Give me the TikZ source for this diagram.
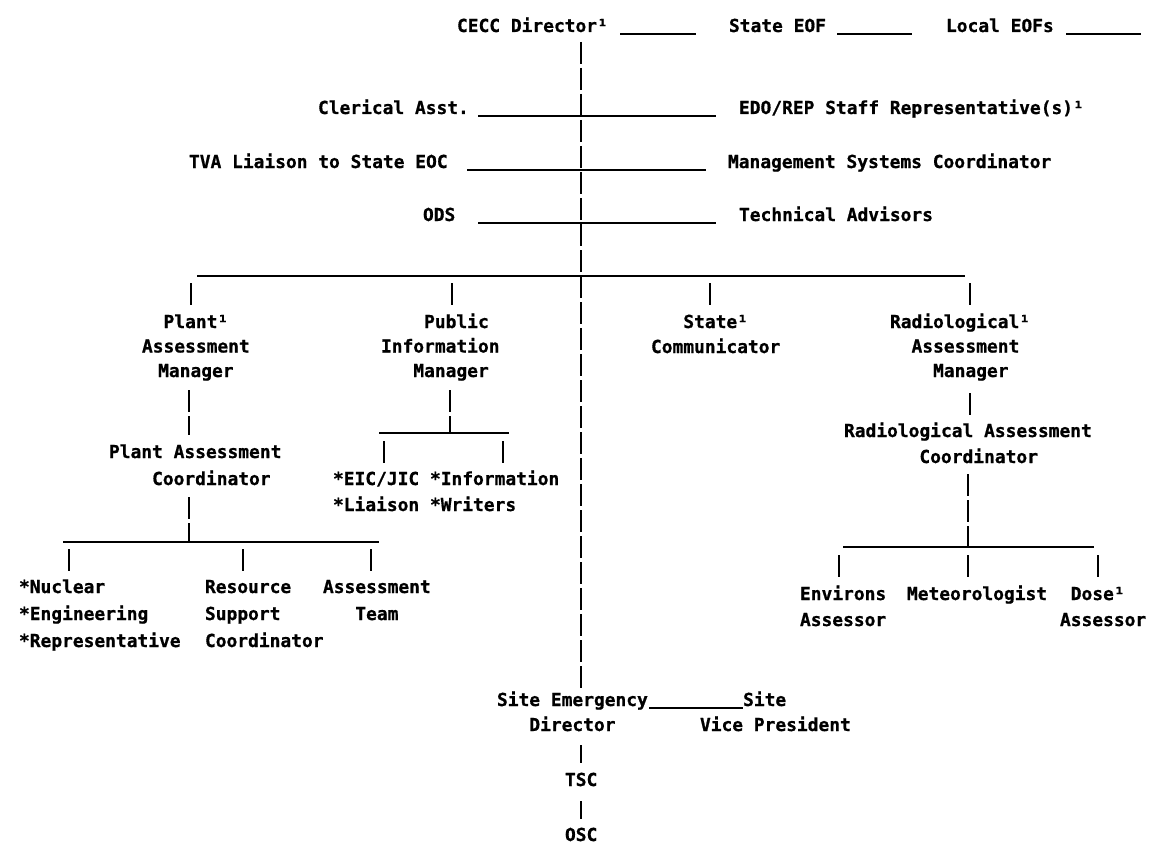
\documentclass[tikz,border=0pt]{standalone}
\usepackage{fontspec}
\setmainfont{DejaVu Sans Mono}[BoldFeatures={FakeBold=0.8}]
\newlength\cw
\setlength\cw{10.776pt}
\newcommand\lf[1]{\fontsize{17.9pt}{#1pt}\selectfont\bfseries}
\newcommand\st{\rule{0pt}{15pt}}
\newcommand\ind[1]{\hspace*{#1\cw}}
\begin{document}
\begin{tikzpicture}[x=1pt,y=-1pt,
  lab/.style={anchor=north west, inner sep=0pt, outer sep=0pt, align=left, font=\lf{#1}},
  lab/.default=26,
  hbar/.style={line width=2.7pt},
  vbar/.style={line width=2.7pt, dash pattern=on 22pt off 4pt}]
\useasboundingbox (0,0) rectangle (1151,848);
% ---- top row
\node[lab] (cecc) at (457,17) {\st CECC Director¹};
\node[lab] (seof) at (729,17) {\st State EOF};
\node[lab] (leof) at (946,17) {\st Local EOFs};
\coordinate (l1a) at (620,34); \coordinate (l1b) at (696,34);
\coordinate (l2a) at (837,34); \coordinate (l2b) at (912,34);
\coordinate (l3a) at (1066,34); \coordinate (l3b) at (1141,34);
\draw[hbar] (l1a) -- (l1b);
\draw[hbar] (l2a) -- (l2b);
\draw[hbar] (l3a) -- (l3b);
% ---- staff rows
\node[lab] (cler) at (318,99) {\st Clerical Asst.};
\node[lab] (edo) at (739,99) {\st EDO/REP Staff Representative(s)¹};
\node[lab] (tva) at (189,153) {\st TVA Liaison to State EOC};
\node[lab] (msc) at (728,153) {\st Management Systems Coordinator};
\node[lab] (ods) at (423,206) {\st ODS};
\node[lab] (tech) at (739,206) {\st Technical Advisors};
\coordinate (r1a) at (478,116); \coordinate (r1b) at (716,116);
\coordinate (r2a) at (467,170); \coordinate (r2b) at (706,170);
\coordinate (r3a) at (478,223); \coordinate (r3b) at (716,223);
\draw[hbar] (r1a) -- (r1b);
\draw[hbar] (r2a) -- (r2b);
\draw[hbar] (r3a) -- (r3b);
% ---- main line
\coordinate (mtop) at (581,42);
\coordinate (mbot) at (581,690);
\draw[vbar] (mtop) -- (mbot);
% ---- main bar
\coordinate (ba) at (197,276); \coordinate (bb) at (965,276);
\draw[hbar] (ba) -- (bb);
\coordinate (t1a) at (191,283); \coordinate (t1b) at (191,305);
\coordinate (t2a) at (452,283); \coordinate (t2b) at (452,305);
\coordinate (t3a) at (710,283); \coordinate (t3b) at (710,305);
\coordinate (t4a) at (970,283); \coordinate (t4b) at (970,305);
\draw[vbar] (t1a) -- (t1b);
\draw[vbar] (t2a) -- (t2b);
\draw[vbar] (t3a) -- (t3b);
\draw[vbar] (t4a) -- (t4b);
% ---- managers
\node[lab=24.5] (pam) at (142,313) {\st\ind{2}Plant¹\\Assessment\\\ind{1.5}Manager};
\node[lab=24.5] (pim) at (381,313) {\st\ind{4}Public\\Information\\\ind{3}Manager};
\node[lab=25] (sc) at (651,313) {\st\ind{3}State¹\\Communicator};
\node[lab=24.5] (ram) at (890,313) {\st Radiological¹\\\ind{2}Assessment\\\ind{4}Manager};
% ---- plant branch
\coordinate (p1a) at (189,390); \coordinate (p1b) at (189,435);
\draw[vbar] (p1a) -- (p1b);
\node[lab=27] (pac) at (109,443) {\st Plant Assessment\\\ind{4}Coordinator};
\coordinate (p2a) at (189,497); \coordinate (p2b) at (189,542);
\draw[vbar] (p2a) -- (p2b);
\coordinate (pba) at (63,542); \coordinate (pbb) at (379,542);
\draw[hbar] (pba) -- (pbb);
\coordinate (pt1a) at (69,549); \coordinate (pt1b) at (69,571);
\coordinate (pt2a) at (243,549); \coordinate (pt2b) at (243,571);
\coordinate (pt3a) at (371,549); \coordinate (pt3b) at (371,571);
\draw[vbar] (pt1a) -- (pt1b);
\draw[vbar] (pt2a) -- (pt2b);
\draw[vbar] (pt3a) -- (pt3b);
\node[lab=27] (nuc) at (19,578) {\st *Nuclear\\*Engineering\\*Representative};
\node[lab=27] (rsc) at (205,578) {\st Resource\\Support\\Coordinator};
\node[lab=27] (ast) at (323,578) {\st Assessment\\\ind{3}Team};
% ---- public branch
\coordinate (q1a) at (450,390); \coordinate (q1b) at (450,433);
\draw[vbar] (q1a) -- (q1b);
\coordinate (qba) at (379,433); \coordinate (qbb) at (509,433);
\draw[hbar] (qba) -- (qbb);
\coordinate (qt1a) at (384,441); \coordinate (qt1b) at (384,463);
\coordinate (qt2a) at (503,441); \coordinate (qt2b) at (503,463);
\draw[vbar] (qt1a) -- (qt1b);
\draw[vbar] (qt2a) -- (qt2b);
\node[lab=26] (eic) at (333,470) {\st *EIC/JIC *Information\\*Liaison *Writers};
% ---- radiological branch
\coordinate (s1a) at (970,393); \coordinate (s1b) at (970,415);
\draw[vbar] (s1a) -- (s1b);
\node[lab=26] (rac) at (844,422) {\st Radiological Assessment\\\ind{7}Coordinator};
\coordinate (s2a) at (968,474); \coordinate (s2b) at (968,547);
\draw[vbar] (s2a) -- (s2b);
\coordinate (sba) at (843,547); \coordinate (sbb) at (1094,547);
\draw[hbar] (sba) -- (sbb);
\coordinate (st1a) at (839,555); \coordinate (st1b) at (839,577);
\coordinate (st2a) at (968,555); \coordinate (st2b) at (968,577);
\coordinate (st3a) at (1098,555); \coordinate (st3b) at (1098,577);
\draw[vbar] (st1a) -- (st1b);
\draw[vbar] (st2a) -- (st2b);
\draw[vbar] (st3a) -- (st3b);
\node[lab=26] (env) at (800,585) {\st Environs\\Assessor};
\node[lab=26] (met) at (907,585) {\st Meteorologist};
\node[lab=26] (dose) at (1060,585) {\st\ind{1}Dose¹\\Assessor};
% ---- site
\node[lab=25] (sed) at (497,691) {\st Site Emergency\\\ind{3}Director};
\node[lab=25] (svp) at (700,691) {\st\ind{4}Site\\Vice President};
\coordinate (ua) at (649,708); \coordinate (ub) at (743,708);
\draw[hbar] (ua) -- (ub);
\coordinate (u1a) at (581,745); \coordinate (u1b) at (581,763);
\draw[vbar] (u1a) -- (u1b);
\node[lab] (tsc) at (565,771) {\st TSC};
\coordinate (u2a) at (581,801); \coordinate (u2b) at (581,819);
\draw[vbar] (u2a) -- (u2b);
\node[lab] (osc) at (565,826) {\st OSC};
\end{tikzpicture}
\end{document}
